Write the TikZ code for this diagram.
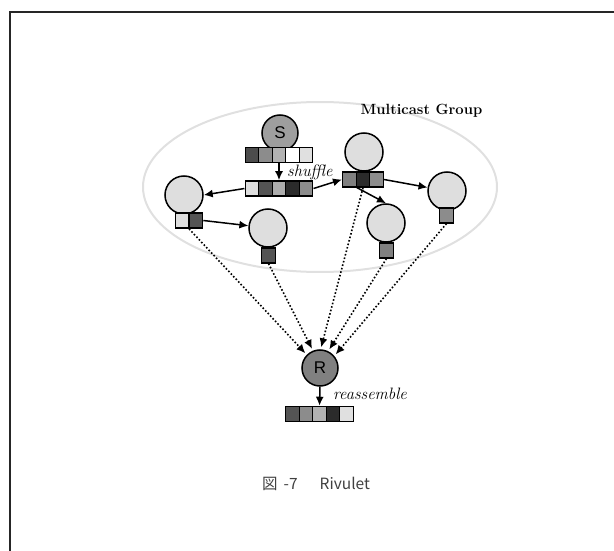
\documentclass[tikz,border=0pt]{standalone}
\usepackage{fontspec}
\newfontfamily\cjk{Noto Sans CJK JP}
\newfontfamily\lab{Liberation Sans}
\usetikzlibrary{arrows.meta,fit}

\tikzset{
  peer/.style={circle, draw=black, line width=1.5pt, fill=black!13,
               minimum size=38pt, inner sep=0pt},
  endpoint/.style={peer, minimum size=36pt, font=\lab\fontsize{17}{19}\selectfont},
  cell/.style={rectangle, draw=black, line width=1.2pt, minimum width=13.5pt,
               minimum height=15pt, inner sep=0pt},
  bar/.style={inner sep=0pt, rectangle},
  flow/.style={line width=1.5pt, -{Latex[length=9pt,width=8pt]}},
  stream/.style={line width=1.6pt, dotted, -{Latex[length=9pt,width=8pt]}, shorten >=2pt},
  group/.style={draw=black!12, line width=2pt},
  tag/.style={font=\itshape\fontsize{16.5}{18}\selectfont, inner sep=0pt},
}

\begin{document}
\begin{tikzpicture}[x=1pt,y=-1pt]
\useasboundingbox (0,0) rectangle (614,551);

% page frame
\draw[line width=2pt, black!85] (10,560) -- (10,12.5) -- (620,12.5);

% multicast group
\draw[group] (320,187) ellipse [x radius=177, y radius=85];
\node[font=\bfseries\fontsize{14.8}{17}\selectfont, inner sep=0pt]
  (grp) at (421.5,111) {Multicast Group};

% sender and its data blocks
\node[endpoint, fill=black!38] (S) at (280,133) {S};
\node[cell, fill=black!70] (s1) at (252,155) {};
\node[cell, fill=black!45] (s2) at (265.5,155) {};
\node[cell, fill=black!30] (s3) at (279,155) {};
\node[cell, fill=white]    (s4) at (292.5,155) {};
\node[cell, fill=black!12] (s5) at (306,155) {};
\node[bar, fit=(s1)(s5)] (sbar) {};

% shuffled blocks
\node[cell, fill=black!13] (h1) at (252,188.5) {};
\node[cell, fill=black!67] (h2) at (265.5,188.5) {};
\node[cell, fill=black!32] (h3) at (279,188.5) {};
\node[cell, fill=black!83] (h4) at (292.5,188.5) {};
\node[cell, fill=black!45] (h5) at (306,188.5) {};
\node[bar, fit=(h1)(h5)] (hbar) {};
\node[tag, anchor=base west] (shuf) at (287,176) {shuffle};

% peers
\node[peer] (A) at (184,195) {};
\node[peer] (B) at (268,228) {};
\node[peer] (C) at (364,152) {};
\node[peer] (D) at (447,191) {};
\node[peer] (E) at (386,223) {};

% blocks held by peers
\node[cell, fill=black!13] (a1) at (182.25,220.5) {};
\node[cell, fill=black!67] (a2) at (195.75,220.5) {};
\node[bar, fit=(a1)(a2)] (abar) {};
\node[cell, fill=black!50] (c1) at (349.5,179.5) {};
\node[cell, fill=black!83] (c2) at (363,179.5) {};
\node[cell, fill=black!45] (c3) at (376.5,179.5) {};
\node[bar, fit=(c1)(c3)] (cbar) {};
\node[cell, fill=black!67] (b1) at (268.5,255.5) {};
\node[cell, fill=black!50] (e1) at (386.5,250.5) {};
\node[cell, fill=black!45] (d1) at (446.5,215.5) {};

% receiver and reassembled blocks
\node[endpoint, fill=black!50] (R) at (320,368) {R};
\node[cell, fill=black!67] (r1) at (292.5,414) {};
\node[cell, fill=black!45] (r2) at (306,414) {};
\node[cell, fill=black!30] (r3) at (319.5,414) {};
\node[cell, fill=black!83] (r4) at (333,414) {};
\node[cell, fill=black!12] (r5) at (346.5,414) {};
\node[bar, fit=(r1)(r5)] (rbar) {};
\node[tag, anchor=base west] (reas) at (333,399) {reassemble};

% distribution inside the group
\draw[flow] (sbar.south) -- (hbar.north);
\draw[flow] (hbar.west) -- (A.east);
\draw[flow] (hbar.east) -- (cbar.west);
\draw[flow] (cbar.east) -- (D);
\draw[flow] (c1.south east) -- (E.north);
\draw[flow] (abar.east) -- (B);

% streams to the receiver
\draw[stream] (abar.south) -- (R.135);
\draw[stream] (b1.south) -- (R.112);
\draw[stream] (cbar.south) -- (R.88);
\draw[stream] (e1.south) -- (R.64);
\draw[stream] (d1.south) -- (R.40);

\draw[flow] (R.south) -- (rbar.north);

% caption
\node[font=\cjk\fontsize{15.5}{17}\selectfont, text=black!75, anchor=base west, inner sep=0pt]
  (cap) at (262,489) {図\hspace{6pt}-7\hspace{22pt}Rivulet};
\end{tikzpicture}
\end{document}
